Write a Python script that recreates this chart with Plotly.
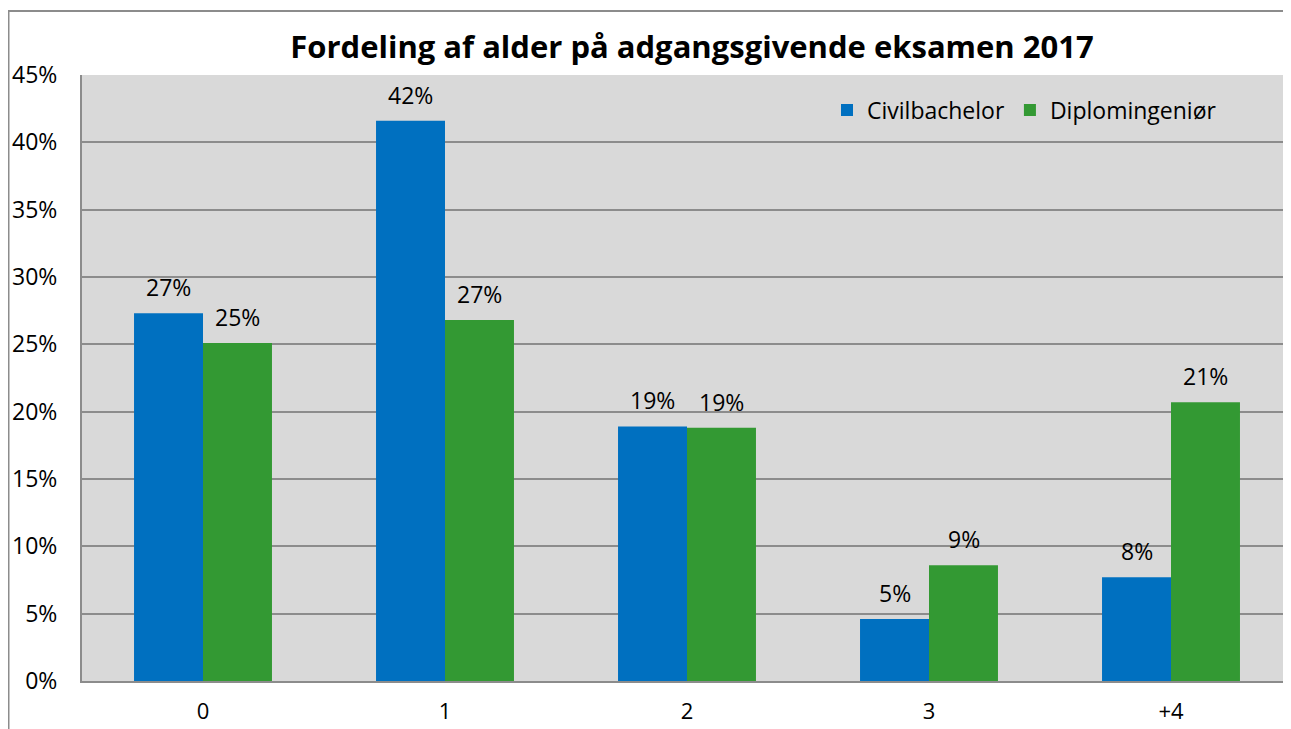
import plotly.graph_objects as go

categories = ["0", "1", "2", "3", "+4"]
civil = [0.273, 0.416, 0.189, 0.046, 0.077]
diplom = [0.251, 0.268, 0.188, 0.086, 0.207]
series_names = ["Civilbachelor", "Diplomingeniør"]
colors = ["#0070C0", "#339933"]
title = "Fordeling af alder på adgangsgivende eksamen 2017"
yticks = [i * 0.05 for i in range(10)]

OFF = 8  # page body margin
W, H = 1291 - OFF, 729 - OFF
L, R, T, B = 82 - OFF, 0, 75 - OFF, 48
pw = W - L - R
ph = H - T - B
cat_px = 242.0
FONT = "Open Sans"

fig = go.Figure()
for name, vals, col in zip(series_names, [civil, diplom], colors):
    fig.add_trace(go.Bar(x=categories, y=vals, name=name, marker_color=col,
                         marker_line_width=0))

ann = []
for k, vals in enumerate([civil, diplom]):
    shift = (-0.5 + k) * 69
    for c, v in zip(categories, vals):
        ann.append(dict(x=c, y=v, xref="x", yref="y", text=f"{round(v*100):.0f}%",
                        showarrow=False, xshift=shift, yshift=26,
                        font=dict(size=23, color="#000000", family=FONT)))

# convert screenshot pixel coords to paper coords
def px2x(px):
    return (px - OFF - L) / pw

def py2y(py):
    return (H - B - (py - OFF)) / ph

shapes = [
    dict(type="line", xref="paper", yref="paper", x0=px2x(8), x1=px2x(1300),
         y0=py2y(11), y1=py2y(11), line=dict(color="#8c8c8c", width=2)),
    dict(type="line", xref="paper", yref="paper", x0=px2x(8.5), x1=px2x(8.5),
         y0=py2y(11), y1=py2y(740), line=dict(color="#8c8c8c", width=2)),
]

fig.update_layout(
    width=W, height=H,
    margin=dict(l=L, r=R, t=T, b=B, pad=0, autoexpand=False),
    paper_bgcolor="#FFFFFF",
    plot_bgcolor="#D9D9D9",
    barmode="group",
    bargap=0.43,
    bargroupgap=0,
    title=dict(text=f"<b>{title}</b>", x=(692 - OFF) / W, xanchor="center",
               y=1 - (47 - OFF) / H, yanchor="middle",
               font=dict(size=31, family=FONT, color="#000000")),
    font=dict(family=FONT, size=23, color="#000000"),
    legend=dict(orientation="h", x=px2x(827), xanchor="left", y=py2y(110), yanchor="middle",
                bgcolor="rgba(0,0,0,0)", font=dict(size=23), itemwidth=30,
                traceorder="normal"),
    annotations=ann,
    shapes=shapes,
    xaxis=dict(range=[-0.5, -0.5 + pw / cat_px], showgrid=False, ticks="",
               tickfont=dict(size=22), showline=True, linecolor="#8c8c8c", linewidth=2,
               ticklabelstandoff=10, automargin=False),
    yaxis=dict(range=[0, 0.45], tickvals=yticks, tickformat=".0%", showgrid=True,
               gridcolor="#8c8c8c", gridwidth=1.5, zeroline=False, showline=True,
               linecolor="#8c8c8c", linewidth=2, ticks="", tickfont=dict(size=23),
               ticklabelstandoff=18, automargin=False),
)

fig.write_html("out.html")
